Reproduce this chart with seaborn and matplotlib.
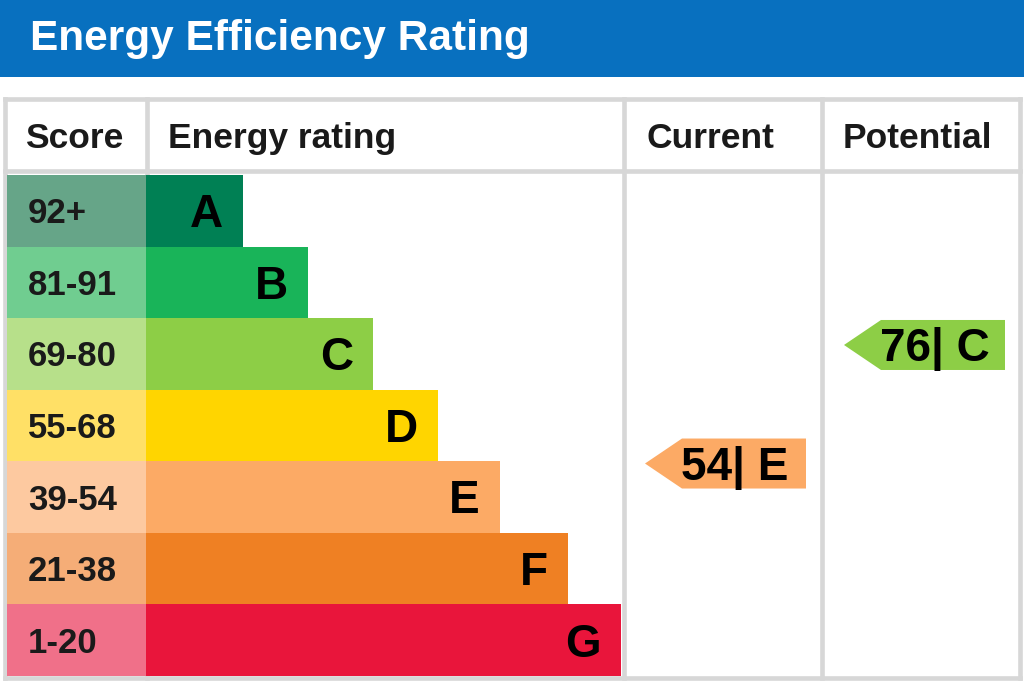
import matplotlib
matplotlib.use("Agg")
import matplotlib.pyplot as plt
from matplotlib.patches import Polygon, Rectangle
from matplotlib.lines import Line2D
import seaborn as sns
import pandas as pd

# ---------------- data ----------------
title = "Energy Efficiency Rating"
headers = ["Score", "Energy rating", "Current", "Potential"]
letters = ["A", "B", "C", "D", "E", "F", "G"]
score_ranges = ["92+", "81-91", "69-80", "55-68", "39-54", "21-38", "1-20"]
band_low = [92, 81, 69, 55, 39, 21, 1]
band_high = [100, 91, 80, 68, 54, 38, 20]
bar_length = [97, 162, 227, 292, 354, 422, 475]   # length of each rating bar
band_colors = ["#008054", "#19b459", "#8dce46", "#ffd500", "#fcaa65", "#ef8023", "#e9153b"]
score_colors = ["#66a588", "#70cd90", "#b7e08a", "#ffe066", "#fdc9a0", "#f5ad77", "#f07089"]
current_score = 54
potential_score = 76

# ---------------- layout ----------------
W, H = 1024, 683
sns.set_style("white")
plt.rcParams["font.family"] = ["Liberation Sans", "DejaVu Sans"]
fig = plt.figure(figsize=(W / 100, H / 100), dpi=100)
fig.patch.set_facecolor("white")

TITLE_BLUE = "#0870bf"
GRID = "#d7d7d7"
TXT = "#1a1a1a"
ROW_TOP, ROW_BOT = 175, 676
PX2PT = 0.72


def px_axes(x0, y0, x1, y1):
    ax = fig.add_axes([x0 / W, 1 - y1 / H, (x1 - x0) / W, (y1 - y0) / H])
    ax.set_axis_off()
    return ax


# background: title bar, table grid, headers
bg = px_axes(0, 0, W, H)
bg.set_xlim(0, W)
bg.set_ylim(H, 0)
bg.add_patch(Rectangle((0, 0), W, 77, color=TITLE_BLUE, lw=0))
bg.text(30, 50, title, color="white", fontsize=30.5, fontweight="bold",
        ha="left", va="baseline")

lw = 4.6 * PX2PT
left, right, top, bottom = 4.5, 1019.5, 99.3, 678.2
for x in [left, 147, 624.2, 822, right]:
    bg.add_line(Line2D([x, x], [top, bottom], color=GRID, lw=lw, solid_capstyle="projecting"))
for y in [top, 170.5, bottom]:
    bg.add_line(Line2D([left, right], [y, y], color=GRID, lw=lw, solid_capstyle="projecting"))

for hx, h in zip([25, 168, 646, 843], headers):
    bg.text(hx, 148, h, color=TXT, fontsize=25.5, fontweight="bold",
            ha="left", va="baseline")

df = pd.DataFrame({"rating": letters, "range": score_ranges,
                   "full": [1] * len(letters), "length": bar_length})

# score column
ax_s = px_axes(7, ROW_TOP, 146, ROW_BOT)
sns.barplot(data=df, x="full", y="rating", hue="rating", order=letters,
            hue_order=letters, palette=score_colors, width=1.0, saturation=1,
            legend=False, linewidth=0, ax=ax_s)
ax_s.set_xlim(0, 1)
ax_s.set_ylim(len(letters) - 0.5, -0.5)
ax_s.set_axis_off()
for i, rng in enumerate(score_ranges):
    ax_s.annotate(rng, xy=(0, i), xytext=(21 * PX2PT, -0.358 * 25),
                  textcoords="offset points", ha="left", va="baseline",
                  fontsize=25, fontweight="bold", color=TXT)

# rating bars
ax_b = px_axes(146, ROW_TOP, 621, ROW_BOT)
sns.barplot(data=df, x="length", y="rating", hue="rating", order=letters,
            hue_order=letters, palette=band_colors, width=1.0, saturation=1,
            legend=False, linewidth=0, ax=ax_b)
ax_b.set_xlim(0, 475)
ax_b.set_ylim(len(letters) - 0.5, -0.5)
ax_b.set_axis_off()
for i, (L, n) in enumerate(zip(letters, bar_length)):
    ax_b.annotate(L, xy=(n, i), xytext=(-20 * PX2PT, -0.358 * 33),
                  textcoords="offset points", ha="right", va="baseline",
                  fontsize=33, fontweight="bold", color="black")


# current / potential arrows
def band_of(score):
    for i, (lo, hi) in enumerate(zip(band_low, band_high)):
        if lo <= score <= hi:
            return i
    return len(letters) - 1


row_px = (ROW_BOT - ROW_TOP) / len(letters)


def draw_arrow(x0, x1, score):
    ax = px_axes(x0, ROW_TOP, x1, ROW_BOT)
    ax.set_xlim(0, x1 - x0)
    ax.set_ylim(len(letters) - 0.5, -0.5)
    ax.set_axis_off()
    i = band_of(score)
    y = i - 0.5 + (band_high[i] + 0.5 - score) / (band_high[i] - band_low[i] + 1)
    hh = 25 / row_px
    tip, body, end = 19, 56, 180
    ax.add_patch(Polygon([(tip, y), (body, y - hh), (end, y - hh), (end, y + hh), (body, y + hh)],
                         closed=True, color=band_colors[i], lw=0))
    ax.annotate(f"{score}| {letters[i]}", xy=(body, y), xytext=(-1, -0.358 * 33),
                textcoords="offset points", ha="left", va="baseline",
                fontsize=33, fontweight="bold", color="black")


draw_arrow(626, 820, current_score)
draw_arrow(825, 1017, potential_score)

fig.savefig("out.png", dpi=100, facecolor="white")
